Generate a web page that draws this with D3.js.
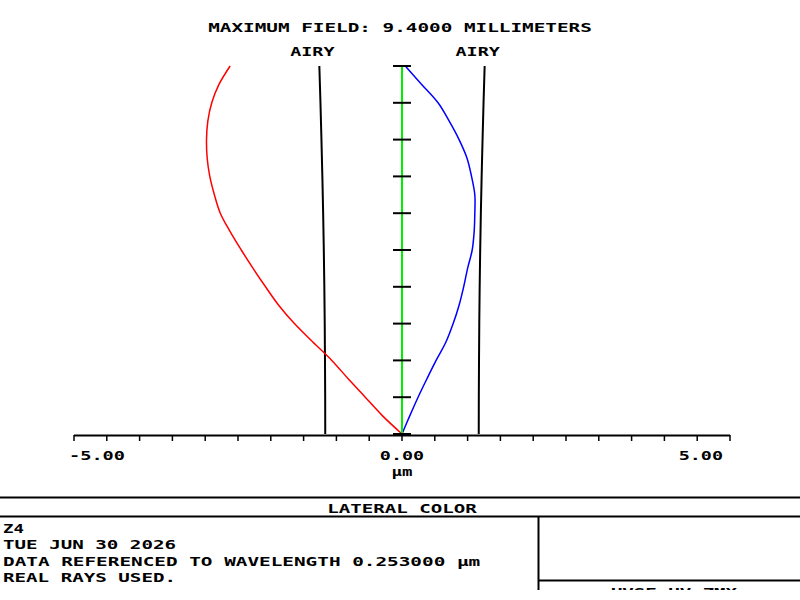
<!DOCTYPE html>
<html>
<head>
<meta charset="utf-8">
<script src="https://cdn.jsdelivr.net/npm/d3@7"></script>
<style>
  body { margin: 0; background: #fff; }
  text { font-family: "DejaVu Sans Mono", monospace; font-size: 12.5px; font-weight: bold; fill: #000; }
</style>
</head>
<body>
<div id="chart"></div>
<script>
// relative field heights (0 = axis, 1 = max field)
var fields = [0, 0.05, 0.10, 0.15, 0.20, 0.25, 0.30, 0.35, 0.40, 0.45, 0.50,
              0.55, 0.60, 0.65, 0.70, 0.75, 0.80, 0.85, 0.90, 0.95, 1.00];
// lateral color (µm) for short and long wavelength, reference is zero
var shortWave = [0, -0.30, -0.56, -0.82, -1.07, -1.36, -1.64, -1.88, -2.08, -2.27, -2.45,
                 -2.62, -2.77, -2.86, -2.93, -2.97, -2.98, -2.96, -2.90, -2.79, -2.62];
var longWave  = [0, 0.12, 0.245, 0.38, 0.52, 0.67, 0.78, 0.87, 0.94, 1.00, 1.07,
                 1.10, 1.11, 1.11, 1.06, 0.99, 0.87, 0.72, 0.55, 0.30, 0.05];
var refWave   = [0, 0, 0, 0, 0, 0, 0, 0, 0, 0, 0, 0, 0, 0, 0, 0, 0, 0, 0, 0, 0];
// airy radius vs field
var airyFields = [0, 0.1, 0.2, 0.3, 0.4, 0.5, 0.6, 0.7, 0.8, 0.9, 1.0];
var airy       = [1.170, 1.171, 1.174, 1.178, 1.184, 1.192, 1.202, 1.214, 1.228, 1.243, 1.260];

var xTicks = d3.range(-5, 5.001, 0.5);
var xLabels = [-5, 0, 5];
var yTicks = d3.range(0, 1.001, 0.1);

var title = "MAXIMUM FIELD: 9.4000 MILLIMETERS";
var plotName = "LATERAL COLOR";
var infoLines = ["Z4", "TUE JUN 30 2026", "DATA REFERENCED TO WAVELENGTH 0.253000 µm", "REAL RAYS USED."];
var fileName = "UVSE UV.ZMX";

var W = 800, H = 600;
var svg = d3.select("#chart").append("svg")
    .attr("width", W)
    .attr("height", H);

svg.append("clipPath").attr("id", "page")
  .append("rect").attr("x", 0).attr("y", 0).attr("width", W).attr("height", 590);

var page = svg.append("g").attr("clip-path", "url(#page)");

var x = d3.scaleLinear().domain([-5, 5]).range([74, 730]);
var y = d3.scaleLinear().domain([0, 1]).range([434, 66]);

// stretched monospace text, like the plotter font
function label(g, str, px, py, anchor) {
  return g.append("text")
    .attr("x", px)
    .attr("y", py)
    .attr("text-anchor", anchor || "start")
    .attr("textLength", str.length * 11.7 - 2.5)
    .attr("lengthAdjust", "spacingAndGlyphs")
    .text(str);
}

// x axis
page.append("line")
  .attr("x1", x(-5)).attr("x2", x(5))
  .attr("y1", 435.5).attr("y2", 435.5)
  .style("stroke", "#000").style("stroke-width", 2);

page.selectAll(".xtick").data(xTicks).enter()
  .append("line")
  .attr("class", "xtick")
  .attr("x1", function(d){ return x(d); })
  .attr("x2", function(d){ return x(d); })
  .attr("y1", 435).attr("y2", 441)
  .style("stroke", "#000").style("stroke-width", 1.5);

xLabels.forEach(function(v) {
  var s = v.toFixed(2);
  if (v < 0) label(page, s, x(v) - 5, 460, "start");
  else if (v > 0) label(page, s, x(v) - 7, 460, "end");
  else label(page, s, x(v), 460, "middle");
});
label(page, "µm", x(0), 476, "middle");

// airy disk lines
var airyLine = d3.line()
  .x(function(d){ return x(d[0]); })
  .y(function(d){ return y(d[1]); });

[-1, 1].forEach(function(sgn) {
  page.append("path")
    .datum(airy.map(function(a, i){ return [sgn * a, airyFields[i]]; }))
    .attr("d", airyLine)
    .style("fill", "none").style("stroke", "#000").style("stroke-width", 2);
  label(page, "AIRY", x(sgn * airy[airy.length - 1]) - 7, 56, "middle");
});

// curves
var curve = d3.line()
  .x(function(d){ return x(d[0]); })
  .y(function(d){ return y(d[1]); })
  .curve(d3.curveCatmullRom);

function series(vals, color, w) {
  page.append("path")
    .datum(vals.map(function(v, i){ return [v, fields[i]]; }))
    .attr("d", curve)
    .style("fill", "none").style("stroke", color).style("stroke-width", w);
}
series(shortWave, "#ff0000", 1.5);
series(longWave, "#0000ff", 1.5);
series(refWave, "#00ee00", 2);

// field ticks on the reference line
page.selectAll(".ytick").data(yTicks).enter()
  .append("line")
  .attr("class", "ytick")
  .attr("x1", x(0) - 9).attr("x2", x(0) + 9)
  .attr("y1", function(d){ return y(d); })
  .attr("y2", function(d){ return y(d); })
  .style("stroke", "#000").style("stroke-width", 2);

label(page, title, 400, 32, "middle");

// title block
var frame = [[0, 497.5, 800, 497.5], [0, 516.5, 800, 516.5], [538.5, 516.5, 538.5, 600], [538.5, 580.5, 800, 580.5]];
frame.forEach(function(f) {
  page.append("line")
    .attr("x1", f[0]).attr("y1", f[1]).attr("x2", f[2]).attr("y2", f[3])
    .style("stroke", "#000").style("stroke-width", 2);
});
label(page, plotName, 402, 513, "middle");
infoLines.forEach(function(s, i) {
  label(page, s, 3, 533 + i * 16.3, "start");
});
label(page, fileName, 674, 597, "middle");
</script>
</body>
</html>
